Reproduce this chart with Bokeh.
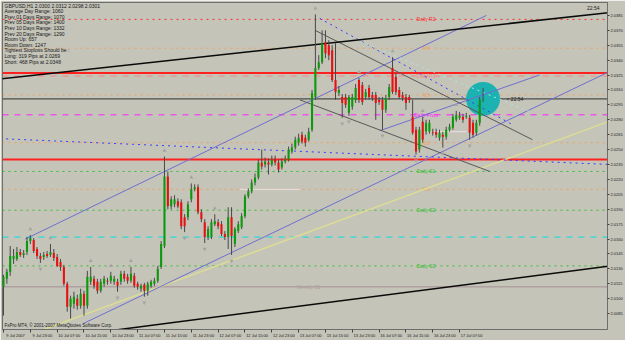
from bokeh.plotting import figure
from bokeh.models import Range1d, LinearAxis, FixedTicker, Label, Span, NumeralTickFormatter, Grid
from bokeh.core.properties import value
from bokeh.embed import file_html
from bokeh.resources import INLINE

# ---------------- data (GBPUSD, H1) ----------------
opens = [2.0112, 2.0120, 2.0127, 2.0140, 2.0140, 2.0147, 2.0144, 2.0147, 2.0158, 2.0159,
         2.0150, 2.0143, 2.0142, 2.0145, 2.0144, 2.0146, 2.0142, 2.0137, 2.0132, 2.0115,
         2.0092, 2.0095, 2.0100, 2.0093, 2.0105, 2.0093, 2.0117, 2.0120, 2.0117, 2.0108,
         2.0115, 2.0118, 2.0118, 2.0117, 2.0117, 2.0117, 2.0125, 2.0122, 2.0118, 2.0123,
         2.0115, 2.0110, 2.0114, 2.0108, 2.0113, 2.0115, 2.0118, 2.0132, 2.0153, 2.0223,
         2.0193, 2.0195, 2.0198, 2.0197, 2.0182, 2.0182, 2.0200, 2.0210, 2.0212, 2.0187,
         2.0177, 2.0162, 2.0162, 2.0175, 2.0177, 2.0175, 2.0165, 2.0162, 2.0182, 2.0155,
         2.0168, 2.0172, 2.0183, 2.0203, 2.0208, 2.0217, 2.0222, 2.0237, 2.0235, 2.0237,
         2.0235, 2.0240, 2.0237, 2.0232, 2.0238, 2.0240, 2.0248, 2.0252, 2.0257, 2.0265,
         2.0262, 2.0260, 2.0270, 2.0303, 2.0332, 2.0338, 2.0358, 2.0355, 2.0350, 2.0320,
         2.0307, 2.0303, 2.0303, 2.0287, 2.0293, 2.0300, 2.0320, 2.0315, 2.0303, 2.0312,
         2.0305, 2.0305, 2.0300, 2.0300, 2.0290, 2.0303, 2.0332, 2.0323, 2.0310, 2.0305,
         2.0303, 2.0303, 2.0283, 2.0270, 2.0250, 2.0278, 2.0268, 2.0268, 2.0268, 2.0268,
         2.0262, 2.0265, 2.0263, 2.0270, 2.0272, 2.0280, 2.0282, 2.0283, 2.0283, 2.0282,
         2.0277, 2.0267, 2.0277, 2.0300]
highs = [2.0124, 2.0130, 2.0153, 2.0150, 2.0152, 2.0150, 2.0149, 2.0162, 2.0164, 2.0161,
         2.0152, 2.0146, 2.0147, 2.0148, 2.0155, 2.0150, 2.0145, 2.0140, 2.0134, 2.0117,
         2.0103, 2.0107, 2.0104, 2.0110, 2.0108, 2.0128, 2.0132, 2.0123, 2.0120, 2.0120,
         2.0123, 2.0121, 2.0127, 2.0123, 2.0120, 2.0128, 2.0128, 2.0125, 2.0132, 2.0126,
         2.0117, 2.0115, 2.0116, 2.0117, 2.0119, 2.0121, 2.0133, 2.0158, 2.0243, 2.0228,
         2.0203, 2.0204, 2.0201, 2.0200, 2.0185, 2.0198, 2.0216, 2.0215, 2.0215, 2.0190,
         2.0180, 2.0173, 2.0180, 2.0185, 2.0180, 2.0178, 2.0168, 2.0192, 2.0192, 2.0172,
         2.0178, 2.0186, 2.0205, 2.0211, 2.0220, 2.0226, 2.0240, 2.0250, 2.0242, 2.0241,
         2.0244, 2.0244, 2.0240, 2.0241, 2.0244, 2.0253, 2.0256, 2.0263, 2.0266, 2.0268,
         2.0265, 2.0272, 2.0310, 2.0386, 2.0345, 2.0370, 2.0370, 2.0360, 2.0355, 2.0357,
         2.0314, 2.0306, 2.0306, 2.0305, 2.0306, 2.0316, 2.0322, 2.0318, 2.0311, 2.0315,
         2.0308, 2.0308, 2.0303, 2.0303, 2.0305, 2.0316, 2.0343, 2.0327, 2.0313, 2.0308,
         2.0306, 2.0305, 2.0300, 2.0273, 2.0273, 2.0283, 2.0280, 2.0280, 2.0271, 2.0271,
         2.0270, 2.0268, 2.0273, 2.0276, 2.0286, 2.0289, 2.0288, 2.0286, 2.0287, 2.0285,
         2.0280, 2.0280, 2.0303, 2.0312]
lows = [2.0083, 2.0115, 2.0123, 2.0135, 2.0138, 2.0142, 2.0141, 2.0144, 2.0155, 2.0146,
        2.0140, 2.0136, 2.0139, 2.0141, 2.0142, 2.0138, 2.0132, 2.0128, 2.0113, 2.0087,
        2.0080, 2.0090, 2.0089, 2.0090, 2.0083, 2.0090, 2.0114, 2.0110, 2.0105, 2.0106,
        2.0112, 2.0114, 2.0115, 2.0114, 2.0107, 2.0114, 2.0117, 2.0115, 2.0116, 2.0111,
        2.0109, 2.0107, 2.0102, 2.0103, 2.0111, 2.0113, 2.0116, 2.0130, 2.0151, 2.0190,
        2.0190, 2.0192, 2.0191, 2.0170, 2.0167, 2.0179, 2.0197, 2.0208, 2.0185, 2.0177,
        2.0156, 2.0159, 2.0160, 2.0173, 2.0170, 2.0163, 2.0159, 2.0150, 2.0144, 2.0152,
        2.0166, 2.0170, 2.0181, 2.0201, 2.0206, 2.0214, 2.0220, 2.0230, 2.0232, 2.0225,
        2.0233, 2.0234, 2.0227, 2.0230, 2.0236, 2.0238, 2.0246, 2.0250, 2.0254, 2.0256,
        2.0253, 2.0258, 2.0268, 2.0300, 2.0330, 2.0336, 2.0342, 2.0340, 2.0318, 2.0300,
        2.0304, 2.0282, 2.0292, 2.0284, 2.0290, 2.0297, 2.0297, 2.0295, 2.0300, 2.0300,
        2.0299, 2.0280, 2.0295, 2.0270, 2.0287, 2.0300, 2.0306, 2.0305, 2.0301, 2.0299,
        2.0290, 2.0297, 2.0265, 2.0245, 2.0247, 2.0257, 2.0265, 2.0266, 2.0264, 2.0262,
        2.0259, 2.0252, 2.0260, 2.0268, 2.0270, 2.0278, 2.0280, 2.0277, 2.0281, 2.0260,
        2.0262, 2.0264, 2.0274, 2.0298]
closes = [2.0122, 2.0127, 2.0143, 2.0143, 2.0147, 2.0144, 2.0146, 2.0158, 2.0161, 2.0148,
          2.0143, 2.0140, 2.0144, 2.0143, 2.0147, 2.0141, 2.0133, 2.0132, 2.0115, 2.0092,
          2.0100, 2.0102, 2.0093, 2.0105, 2.0093, 2.0122, 2.0122, 2.0113, 2.0108, 2.0117,
          2.0120, 2.0117, 2.0123, 2.0120, 2.0113, 2.0125, 2.0120, 2.0118, 2.0125, 2.0113,
          2.0112, 2.0113, 2.0108, 2.0115, 2.0117, 2.0118, 2.0130, 2.0155, 2.0223, 2.0193,
          2.0200, 2.0200, 2.0193, 2.0173, 2.0173, 2.0195, 2.0210, 2.0212, 2.0187, 2.0180,
          2.0162, 2.0170, 2.0177, 2.0178, 2.0173, 2.0165, 2.0162, 2.0182, 2.0163, 2.0170,
          2.0175, 2.0183, 2.0203, 2.0208, 2.0217, 2.0222, 2.0237, 2.0233, 2.0238, 2.0235,
          2.0240, 2.0237, 2.0230, 2.0238, 2.0240, 2.0250, 2.0252, 2.0260, 2.0262, 2.0258,
          2.0257, 2.0268, 2.0307, 2.0332, 2.0338, 2.0357, 2.0347, 2.0345, 2.0320, 2.0308,
          2.0310, 2.0297, 2.0295, 2.0303, 2.0303, 2.0312, 2.0300, 2.0298, 2.0308, 2.0303,
          2.0302, 2.0297, 2.0298, 2.0290, 2.0302, 2.0313, 2.0308, 2.0308, 2.0303, 2.0302,
          2.0297, 2.0300, 2.0267, 2.0248, 2.0270, 2.0260, 2.0277, 2.0277, 2.0267, 2.0265,
          2.0267, 2.0263, 2.0270, 2.0273, 2.0283, 2.0285, 2.0284, 2.0280, 2.0284, 2.0267,
          2.0265, 2.0277, 2.0300, 2.0301]

# fractal bars (up = above high, down = below low)
fractal_up = [8, 14, 26, 32, 38, 48, 56, 63, 93, 106, 116, 125, 135]
fractal_down = [11, 20, 34, 42, 54, 60, 68, 101, 103, 113, 123, 131, 139]

# time axis (bar index -> label)
time_ticks = [0, 8, 16, 24, 32, 40, 48, 56, 64, 72, 80, 88, 96, 104, 112, 120, 128, 136]
time_labels = ["9 Jul 2007", "9 Jul 23:00", "10 Jul 07:00", "10 Jul 15:00", "10 Jul 23:00",
               "11 Jul 07:00", "11 Jul 15:00", "11 Jul 23:00", "12 Jul 07:00", "12 Jul 15:00",
               "12 Jul 23:00", "13 Jul 07:00", "13 Jul 15:00", "13 Jul 23:00", "16 Jul 07:00",
               "16 Jul 15:00", "16 Jul 23:00", "17 Jul 07:00"]
price_ticks = [2.0085, 2.0100, 2.0115, 2.0130, 2.0145, 2.0160, 2.0175, 2.0190, 2.0205,
               2.0220, 2.0235, 2.0250, 2.0265, 2.0280, 2.0295, 2.0310, 2.0325, 2.0340,
               2.0355, 2.0370, 2.0385]

# pivot / level lines
levels = [2.0381, 2.0352, 2.0327, 2.0324, 2.0305, 2.0285, 2.0257, 2.0240,
          2.0228, 2.0210, 2.0189, 2.0162, 2.0133, 2.0112]
level_names = ["Daily R2", "M4", "", "Daily R1", "M3", "Daily Pivot", "M2", "",
               "Daily S1", "M1", "Daily S2", "", "Daily S3", "Weekly S1"]

# trend lines: (bar0, price0, bar1, price1)
black_lines = [(-1, 2.0321, 181, 2.0388), (30, 2.0067, 181, 2.0133)]
purple_lines = [(6.5, 2.0160, 144.0, 2.0385), (23.8, 2.0075, 181, 2.0329), (112.2, 2.0269, 159.8, 2.0325)]
yellow_lines = [(10.4, 2.0067, 181, 2.0279)]
gray_lines = [(92.9, 2.0370, 157.7, 2.0260), (88.4, 2.0300, 145.0, 2.0228)]
blue_dot_lines = [(-1, 2.0261, 181, 2.0235), (94.3, 2.0382, 151.8, 2.0275)]
cyan_dot_lines = [(103.3, 2.0363, 157.7, 2.0287)]
light_segments = [(70.5, 2.0210, 88.4, 2.0210), (125.6, 2.0268, 138.1, 2.0268)]

info_lines = ["GBPUSD,H1  2.0300 2.0312 2.0298 2.0301",
              "Average Day Range: 1060",
              "Prev 01 Days Range: 1070",
              "Prev 05 Days Range: 1400",
              "Prev 10 Days Range: 1332",
              "Prev 20 Days Range: 1290",
              "Room Up: 657",
              "Room Down: 1247",
              "Tightest Stoploss Should be :",
              "Long: 319 Pips at 2.0269",
              "Short: 468 Pips at 2.0348"]

# ---------------- figure ----------------
BG = "#c4c4b9"
FONT = value("Liberation Sans")
p = figure(width=625, height=340, output_backend="svg", toolbar_location=None,
           x_range=Range1d(-0.3, 180.1), y_range=Range1d(2.0069, 2.0398),
           x_axis_location=None, y_axis_location=None,
           min_border_left=2, min_border_right=17, min_border_top=2, min_border_bottom=9,
           background_fill_color=BG, border_fill_color=BG,
           outline_line_color="#6e6e6e", outline_line_width=1)
p.center = [c for c in p.center if not isinstance(c, Grid)]

yaxis = LinearAxis(ticker=FixedTicker(ticks=price_ticks), formatter=NumeralTickFormatter(format="0.0000"),
                   major_label_text_font_size="4px", major_label_text_font="Liberation Sans",
                   major_label_text_color="#202020", major_label_standoff=1,
                   major_tick_out=2, major_tick_in=0, minor_tick_line_color=None,
                   axis_line_color="#6e6e6e", major_tick_line_color="#404040")
p.add_layout(yaxis, "right")

label_ticks = [t + 3.6 for t in time_ticks]
xaxis = LinearAxis(ticker=FixedTicker(ticks=label_ticks, minor_ticks=time_ticks),
                   major_label_overrides={t: s for t, s in zip(label_ticks, time_labels)},
                   major_label_text_font_size="4px", major_label_text_font="Liberation Sans",
                   major_label_text_color="#202020", major_label_standoff=0,
                   major_tick_line_color=None, major_tick_out=2, major_tick_in=0,
                   minor_tick_out=3, minor_tick_in=0, minor_tick_line_color="#404040",
                   axis_line_color="#6e6e6e")
p.add_layout(xaxis, "below")

# level lines
level_colors = ["#ff3030", "#f0a060", "#ff2020", "#f08a8a", "#f0a060", "#ff20ff", "#f0a060", "#ff2020",
                "#30c030", "#f0a060", "#30c030", "#00e0e0", "#30c030", "#b0a0a0"]
level_dash = ["dotted", "dotted", "solid", "dashed", "dotted", "dashed", "dotted", "solid",
              "dotted", "dotted", "dotted", "dashed", "dotted", "solid"]
level_width = [1, 1, 2, 1, 1, 1, 1, 2, 1, 1, 1, 1, 1, 1.5]
for lvl, col, dash, w in zip(levels, level_colors, level_dash, level_width):
    p.add_layout(Span(location=lvl, dimension="width", line_color=col, line_dash=dash,
                      line_width=w, level="underlay"))
p.add_layout(Span(location=closes[-1], dimension="width", line_color="#303030", line_width=1, level="underlay"))

# level names on the chart
name_x = [126 if n != "Weekly S1" else 91 for n in level_names]
p.text(x=name_x, y=levels, text=level_names, text_font=FONT, text_font_size="5px",
       text_color=level_colors, text_align="center", text_baseline="middle")

# signal circle on last bar
p.scatter(x=[len(closes) - 1], y=[closes[-1]], size=34, marker="circle",
          fill_color="#1cb2b2", line_color=None)

def draw_lines(lines, color, width, dash="solid"):
    p.segment(x0=[l[0] for l in lines], y0=[l[1] for l in lines],
              x1=[l[2] for l in lines], y1=[l[3] for l in lines],
              line_color=color, line_width=width, line_dash=dash)

draw_lines(light_segments, "#ece2e2", 1)
draw_lines(yellow_lines, "#dcdc96", 1.5)
draw_lines(purple_lines, "#6f6fd0", 1)
draw_lines(gray_lines, "#585858", 1)
draw_lines(blue_dot_lines, "#3a3aff", 1, "dotted")
draw_lines(cyan_dot_lines, "#a8e8e8", 1, "dotted")
draw_lines(black_lines, "#0a0a0a", 1.5)

# candles
idx = list(range(len(closes)))
p.segment(x0=idx, y0=highs, x1=idx, y1=lows, line_color="#484848", line_width=1)
body_top = [max(o, c) for o, c in zip(opens, closes)]
body_bot = [min(o, c) for o, c in zip(opens, closes)]
body_col = ["#0c9a0c" if c >= o else "#e81010" for o, c in zip(opens, closes)]
p.vbar(x=idx, width=0.62, top=body_top, bottom=body_bot, fill_color=body_col, line_color=None)

# fractal arrows
GAP = 0.0006
p.scatter(x=fractal_up, y=[highs[i] + GAP for i in fractal_up], marker="triangle", size=4,
          fill_color="#a4a4a4", line_color=None)
p.scatter(x=fractal_down, y=[lows[i] - GAP for i in fractal_down], marker="inverted_triangle", size=4,
          fill_color="#a4a4a4", line_color=None)

# bar timer label
p.text(x=[idx[-1] + 7], y=[closes[-1]], text=["<  22:54"], text_font=FONT, text_font_size="5px",
       text_color="#202020", text_baseline="middle")
p.add_layout(Label(x=174, y=black_lines[0][3], text="22:54", text_font="Liberation Sans",
                   text_font_size="5px", text_color="#202020", text_baseline="bottom", y_offset=1))

# price boxes on the right axis
box_text_col = ["white", "#202020", "white", "#202020", "#202020", "white", "#202020", "white",
                "white", "#202020", "white", "#202020", "white", "#202020"]
for lvl, col, tc in zip(levels, level_colors, box_text_col):
    p.add_layout(Label(x=180.1, y=lvl, x_offset=1, text=f"{lvl:.4f}", text_font="Liberation Sans",
                       text_font_size="4px", text_color=tc, text_baseline="middle",
                       background_fill_color=col, padding=1))
p.add_layout(Label(x=180.1, y=closes[-1], x_offset=1, text=f"{closes[-1]:.4f}", text_font="Liberation Sans",
                   text_font_size="4px", text_color="white", text_baseline="middle",
                   background_fill_color="#000000", padding=1))

# info block top-left
for i, line in enumerate(info_lines):
    p.add_layout(Label(x=2, y=327 - 5.6 * i, x_units="screen", y_units="screen", text=line,
                       text_font="Liberation Sans", text_font_size="5px", text_color="#181818",
                       text_baseline="top"))
p.add_layout(Label(x=2, y=2, x_units="screen", y_units="screen",
                   text="FxPro MT4, \u00a9 2001-2007 MetaQuotes Software Corp.",
                   text_font="Liberation Sans", text_font_size="4.5px", text_color="#181818",
                   text_baseline="bottom"))

open("out.html", "w").write(file_html(p, INLINE))
